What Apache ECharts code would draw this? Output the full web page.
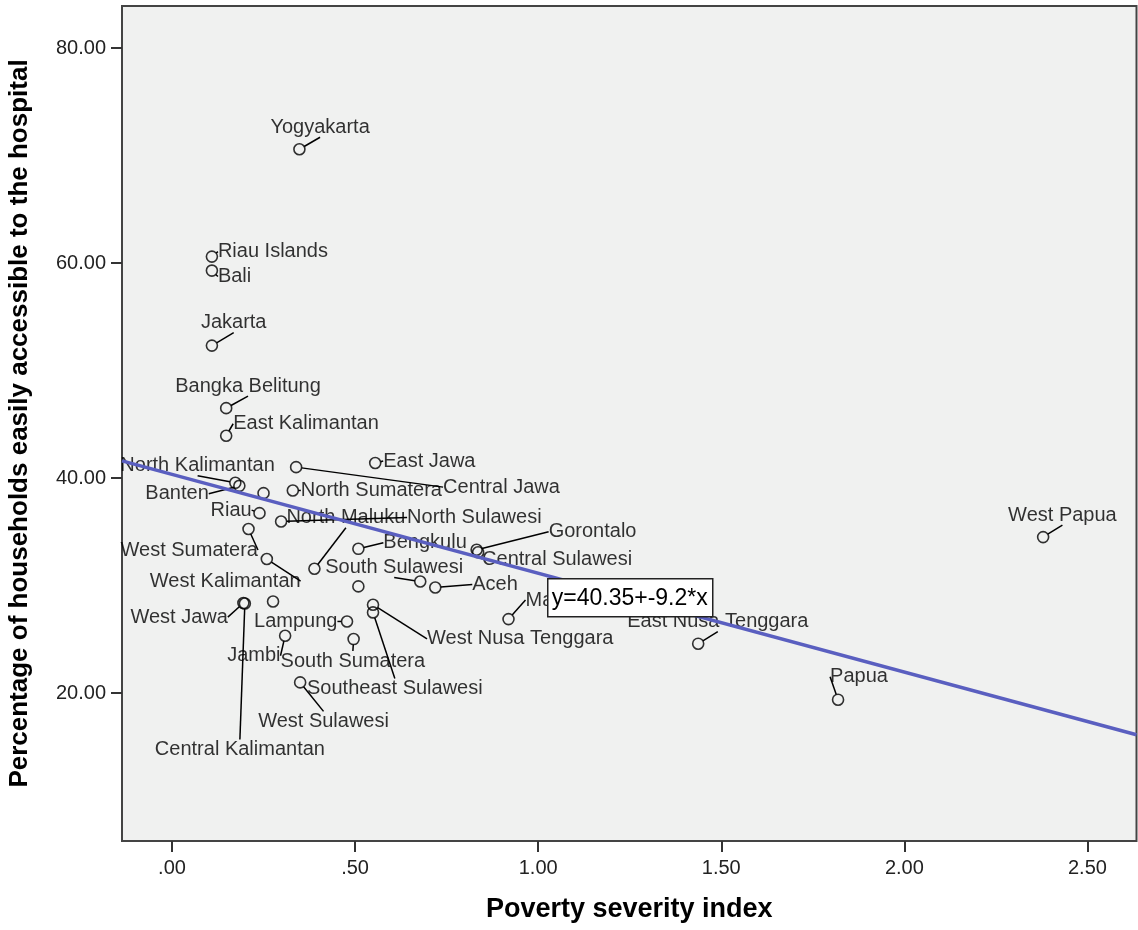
<!DOCTYPE html>
<html>
<head>
<meta charset="utf-8">
<script src="https://cdn.jsdelivr.net/npm/echarts@6/dist/echarts.min.js"></script>
<style>
html, body { margin: 0; padding: 0; background: #fff; }
#main { width: 1138px; height: 930px; }
</style>
</head>
<body>
<div id="main"></div>
<script>
var chartDom = document.getElementById('main');
var myChart = echarts.init(chartDom, null, { renderer: 'canvas' });

const provinces = [
    'Yogyakarta', 'Riau Islands', 'Bali', 'Jakarta', 'Bangka Belitung', 'East Kalimantan',
    'North Kalimantan', 'Banten', 'Central Jawa', 'East Jawa', 'South Kalimantan', 'North Sumatera',
    'Riau', 'North Sulawesi', 'West Sumatera', 'North Maluku', 'West Kalimantan', 'Bengkulu',
    'Gorontalo', 'Central Sulawesi', 'South Sulawesi', 'Aceh', '', 'West Jawa',
    'Central Kalimantan', '', 'West Nusa Tenggara', 'Southeast Sulawesi', 'Maluku', 'Lampung',
    'Jambi', 'South Sumatera', 'East Nusa Tenggara', 'West Sulawesi', 'Papua', 'West Papua'
];
// Poverty severity index
const severity = [
    0.348, 0.109, 0.109, 0.109, 0.148, 0.148,
    0.173, 0.184, 0.339, 0.555, 0.250, 0.330,
    0.239, 0.298, 0.209, 0.389, 0.259, 0.509,
    0.832, 0.836, 0.678, 0.719, 0.509, 0.195,
    0.199, 0.276, 0.549, 0.549, 0.919, 0.478,
    0.309, 0.496, 1.437, 0.350, 1.819, 2.379
];
// Percentage of households easily accessible to the hospital
const hospitalAccess = [
    70.60, 60.61, 59.31, 52.33, 46.51, 43.94,
    39.56, 39.28, 41.02, 41.40, 38.60, 38.85,
    36.74, 35.96, 35.26, 31.56, 32.47, 33.42,
    33.33, 33.10, 30.38, 29.82, 29.92, 28.37,
    28.33, 28.52, 28.21, 27.50, 26.88, 26.66,
    25.33, 25.02, 24.59, 20.99, 19.38, 34.51
];
const fitIntercept = 40.35;
const fitSlope = -9.2;
const xTicks = [0, 0.5, 1, 1.5, 2, 2.5];
const yTicks = [20, 40, 60, 80];

// label placement: [dx, dy] of the label's left-middle point from the marker centre
const labelOffset = {
    'Yogyakarta': [-29, -22], 'Riau Islands': [6, -5], 'Bali': [6, 6], 'Jakarta': [-11, -23],
    'Bangka Belitung': [-51, -22], 'East Kalimantan': [7, -12], 'North Kalimantan': [-115, -17],
    'Banten': [-94, 8], 'Central Jawa': [147, 20], 'East Jawa': [8, -2], 'North Sumatera': [8, 0],
    'Riau': [-49, -3], 'North Sulawesi': [126, -4], 'West Sumatera': [-128, 21],
    'North Maluku': [-28, -51], 'West Kalimantan': [-117, 22], 'Bengkulu': [25, -6],
    'Gorontalo': [72, -18], 'Central Sulawesi': [4, 7], 'South Sulawesi': [-95, -14],
    'Aceh': [37, -3], 'West Jawa': [-113, 14], 'Central Kalimantan': [-90, 146],
    'West Nusa Tenggara': [54, 34], 'Southeast Sulawesi': [-66, 76], 'Maluku': [17, -19],
    'Lampung': [-93, 0], 'Jambi': [-58, 20], 'South Sumatera': [-73, 22],
    'East Nusa Tenggara': [-71, -22], 'West Sulawesi': [-42, 39], 'Papua': [-8, -23],
    'West Papua': [-35, -22]
};

const xMin = -0.1365;
const xMax = 2.634;
const yMin = 6.23;
const yMax = 83.93;
const font = '"Liberation Sans", Arial, sans-serif';

const points = provinces.map((p, i) => ({
    name: p,
    value: [severity[i], hospitalAccess[i]],
    label: { show: !!labelOffset[p] },
    labelLine: { show: !!labelOffset[p] }
}));

const fitLine = [xMin, xMax].map(x => [x, fitIntercept + fitSlope * x]);
const eqText = 'y=' + fitIntercept + '+' + fitSlope + '*x';

const fmt = v => {
    const s = v.toFixed(2);
    return s.indexOf('0.') === 0 ? s.slice(1) : s;
};

var option = {
    animation: false,
    grid: {
        left: 122, top: 6, right: 1.5, bottom: 89,
        show: true,
        backgroundColor: '#f0f1f0',
        borderColor: '#444',
        borderWidth: 2,
        outerBoundsMode: 'none'
    },
    xAxis: {
        type: 'value',
        min: xMin,
        max: xMax,
        name: 'Poverty severity index',
        nameLocation: 'middle',
        nameGap: 55,
        nameTextStyle: { fontSize: 27, fontWeight: 'bold', color: '#000', fontFamily: font },
        axisLine: { show: false },
        axisTick: { show: true, length: 11, customValues: xTicks, lineStyle: { color: '#333', width: 2 } },
        axisLabel: { customValues: xTicks, formatter: fmt, fontSize: 20, color: '#222', margin: 17, fontFamily: font },
        splitLine: { show: false }
    },
    yAxis: {
        type: 'value',
        min: yMin,
        max: yMax,
        name: 'Percentage of households easily accessible to the hospital',
        nameLocation: 'middle',
        nameGap: 89,
        nameTextStyle: { fontSize: 26, fontWeight: 'bold', color: '#000', fontFamily: font },
        axisLine: { show: false, onZero: false },
        axisTick: { show: true, length: 11, customValues: yTicks, lineStyle: { color: '#333', width: 2 } },
        axisLabel: { customValues: yTicks, formatter: fmt, fontSize: 20, color: '#222', margin: 16, fontFamily: font },
        splitLine: { show: false }
    },
    series: [
        {
            type: 'scatter',
            z: 2,
            symbol: 'circle',
            symbolSize: 11,
            itemStyle: { color: 'rgba(0,0,0,0)', borderColor: '#000', borderWidth: 1.6 },
            label: { show: true, formatter: '{b}', fontSize: 20, color: '#000', fontFamily: font },
            labelLine: { show: true, lineStyle: { color: '#000', width: 1.5 } },
            labelLayout: function (params) {
                const o = labelOffset[provinces[params.dataIndex]];
                if (!o) return {};
                const cx = params.rect.x + params.rect.width / 2;
                const cy = params.rect.y + params.rect.height / 2;
                return { x: cx + o[0], y: cy + o[1], align: 'left', verticalAlign: 'middle' };
            },
            emphasis: { disabled: true },
            data: points
        },
        {
            type: 'line',
            z: 5,
            silent: true,
            symbol: 'none',
            lineStyle: { color: '#5a5fc0', width: 3.5 },
            data: fitLine
        }
    ],
    graphic: [
        {
            type: 'group',
            left: 547,
            top: 578,
            z: 100,
            children: [
                {
                    type: 'rect', z: 100,
                    shape: { x: 0, y: 0, width: 165, height: 38 },
                    style: { fill: '#fff', stroke: '#222', lineWidth: 1.5 }
                },
                {
                    type: 'text', z: 101, x: 4, y: 20,
                    style: { text: eqText, font: '23px ' + font, fill: '#000', verticalAlign: 'middle' }
                }
            ]
        }
    ]
};
option && myChart.setOption(option);
</script>
</body>
</html>
